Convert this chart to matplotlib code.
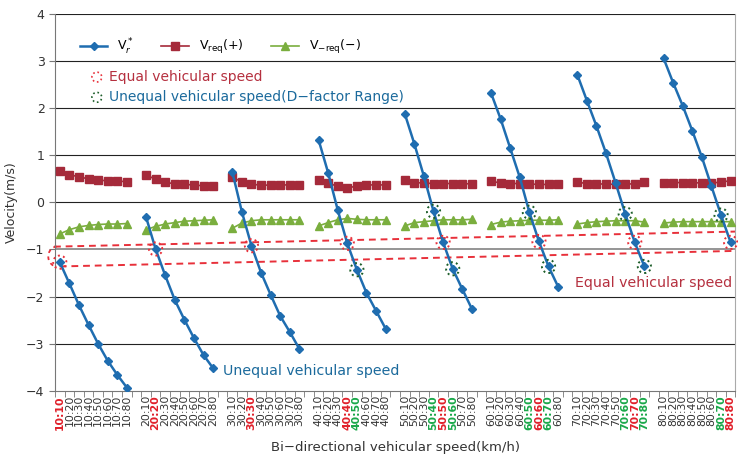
import numpy as np
import matplotlib.pyplot as plt

plt.rcParams['font.family'] = ['DejaVu Sans']

speeds = [10, 20, 30, 40, 50, 60, 70, 80]

# Vr* per group (10:xx ... 80:xx)
vr = [
    [-1.27, -1.72, -2.18, -2.60, -3.00, -3.36, -3.66, -3.93],
    [-0.31, -0.99, -1.55, -2.07, -2.49, -2.88, -3.24, -3.52],
    [0.65, -0.20, -0.92, -1.49, -1.96, -2.41, -2.75, -3.11],
    [1.33, 0.63, -0.16, -0.87, -1.43, -1.92, -2.30, -2.68],
    [1.88, 1.24, 0.55, -0.19, -0.85, -1.41, -1.84, -2.26],
    [2.32, 1.77, 1.15, 0.53, -0.21, -0.83, -1.36, -1.79],
    [2.71, 2.16, 1.62, 1.04, 0.41, -0.24, -0.85, -1.36],
    [3.06, 2.54, 2.05, 1.52, 0.96, 0.34, -0.27, -0.85],
]
vreq_plus = [
    [0.67, 0.59, 0.54, 0.50, 0.47, 0.46, 0.45, 0.44],
    [0.58, 0.49, 0.43, 0.39, 0.38, 0.37, 0.35, 0.35],
    [0.53, 0.44, 0.39, 0.36, 0.37, 0.37, 0.37, 0.37],
    [0.48, 0.41, 0.34, 0.30, 0.35, 0.37, 0.37, 0.37],
    [0.47, 0.42, 0.41, 0.40, 0.40, 0.40, 0.40, 0.39],
    [0.45, 0.41, 0.40, 0.40, 0.39, 0.38, 0.38, 0.39],
    [0.44, 0.39, 0.39, 0.39, 0.38, 0.38, 0.40, 0.43],
    [0.42, 0.42, 0.42, 0.42, 0.41, 0.41, 0.43, 0.46],
]
vreq_minus = [
    [-0.67, -0.58, -0.52, -0.49, -0.47, -0.46, -0.46, -0.45],
    [-0.58, -0.51, -0.46, -0.43, -0.40, -0.39, -0.38, -0.37],
    [-0.55, -0.44, -0.39, -0.37, -0.37, -0.37, -0.37, -0.37],
    [-0.50, -0.43, -0.37, -0.34, -0.36, -0.37, -0.37, -0.37],
    [-0.50, -0.43, -0.41, -0.39, -0.37, -0.37, -0.37, -0.36],
    [-0.47, -0.42, -0.40, -0.39, -0.38, -0.38, -0.38, -0.37],
    [-0.46, -0.43, -0.41, -0.40, -0.39, -0.39, -0.39, -0.42],
    [-0.44, -0.42, -0.41, -0.41, -0.41, -0.41, -0.41, -0.41],
]
# (group, index) of D-factor range points
dfactor = [(3, 4), (4, 3), (4, 5), (5, 4), (5, 6), (6, 5), (6, 7), (7, 6)]

# dashed envelope of equal speed points
upper_line = ([-0.6, 70.5], [-0.94, -0.62])
lower_line = ([0.0, 70.5], [-1.36, -1.03])

BLUE = '#1f6db0'
RED = '#a52a3a'
GREEN = '#7aae3e'
TXT_RED = '#b5303f'
TXT_BLUE = '#1b6a9c'
CIRC_RED = '#e8303a'
CIRC_GREEN = '#1d5e2a'

fig = plt.figure(figsize=(7.38, 4.62), dpi=100)
ax = fig.add_axes([0.0745, 0.154, 0.922, 0.816])

step = 9
labels, colors = [], []
for g, a in enumerate(speeds):
    for k, b in enumerate(speeds):
        labels.append('{}:{}'.format(a, b))
        if a == b:
            colors.append('#e0202a')
        elif (g, k) in dfactor:
            colors.append('#1aa84a')
        else:
            colors.append('#333333')
    if g < len(speeds) - 1:
        labels.append('')
        colors.append('#333333')

for g in range(len(speeds)):
    x = np.arange(8) + g * step
    ax.plot(x, vreq_plus[g], color=RED, marker='s', ms=5.5, lw=1.2, zorder=3,
            label='V$_{\\mathrm{req}}$(+)' if g == 0 else None)
    ax.plot(x, vreq_minus[g], color=GREEN, marker='^', ms=6, lw=1.2, zorder=3,
            label='V$_{-\\mathrm{req}}$(\u2212)' if g == 0 else None)
    ax.plot(x, vr[g], color=BLUE, marker='D', ms=4, lw=1.8, zorder=4,
            label='V$_r^*$' if g == 0 else None)

# circles
ex = [g * step + g for g in range(len(speeds))]
ey = [vr[g][g] for g in range(len(speeds))]
ax.scatter(ex, ey, s=90, facecolors='none', edgecolors=CIRC_RED,
           linestyles=':', linewidths=1.4, zorder=5, clip_on=False)
dx = [g * step + k for g, k in dfactor]
dy = [vr[g][k] for g, k in dfactor]
ax.scatter(dx, dy, s=90, facecolors='none', edgecolors=CIRC_GREEN,
           linestyles=':', linewidths=1.4, zorder=5)

ax.plot(*upper_line, color=CIRC_RED, ls=(0, (3.5, 2.5)), lw=1.4, zorder=2, clip_on=False)
ax.plot(*lower_line, color=CIRC_RED, ls=(0, (3.5, 2.5)), lw=1.4, zorder=2, clip_on=False)
t = np.linspace(np.pi / 2, 3 * np.pi / 2, 30)
arc_x = -0.3 + 0.9 * np.cos(t)
arc_y = -1.15 + 0.21 * np.sin(t)
ax.plot(arc_x, arc_y, color=CIRC_RED, ls=(0, (2, 2)), lw=1.3, zorder=2, clip_on=False)

# grid
for v in range(-4, 5):
    if v == -1:
        ax.axhline(v, color='#8c8c8c', lw=1.3, zorder=1)
    elif v != -4:
        ax.axhline(v, color='#222222', lw=0.8, zorder=1)

ax.set_xlim(-0.5, len(labels) - 0.5)
ax.set_ylim(-4, 4)
ax.set_yticks(range(-4, 5))
ax.set_yticklabels([str(v).replace('-', '\u2212') for v in range(-4, 5)], fontsize=9, color='#333333')
ax.set_xticks(range(len(labels)))
ax.set_xticklabels(labels, rotation=90, fontsize=7.8)
for lab, c in zip(ax.get_xticklabels(), colors):
    lab.set_color(c)
    if c != '#333333':
        lab.set_fontweight('bold')
ax.set_xticks(np.arange(-0.5, len(labels)), minor=True)
ax.tick_params(axis='x', which='major', length=0, pad=3)
ax.tick_params(axis='x', which='minor', length=4, color='#777777')
ax.tick_params(axis='y', length=4, color='#777777')

ax.spines['top'].set_visible(False)
ax.spines['left'].set_color('#777777')
ax.spines['bottom'].set_color('#777777')
ax.spines['right'].set_color('#aaaaaa')

ax.set_ylabel('Velocity(m/s)', fontsize=9, color='#333333', labelpad=6)
ax.set_xlabel('Bi\u2212directional vehicular speed(km/h)', fontsize=9.5, color='#333333', labelpad=8)

h, l = ax.get_legend_handles_labels()
order = [2, 0, 1]
leg1 = ax.legend([h[i] for i in order], [l[i] for i in order], ncol=3, loc='upper left',
                 bbox_to_anchor=(0.02, 0.97), frameon=False, fontsize=9,
                 handlelength=2.2, columnspacing=2.2)
ax.add_artist(leg1)

c1 = ax.scatter([], [], s=50, facecolors='none', edgecolors=CIRC_RED, linestyles=':', linewidths=1.2)
c2 = ax.scatter([], [], s=50, facecolors='none', edgecolors=CIRC_GREEN, linestyles=':', linewidths=1.2)
leg2 = ax.legend([c1, c2], ['Equal vehicular speed', 'Unequal vehicular speed(D\u2212factor Range)'],
                 loc='upper left', bbox_to_anchor=(0.035, 0.885), frameon=False, fontsize=10,
                 handlelength=0.8, handletextpad=0.5, labelspacing=0.45, scatterpoints=1)
leg2.get_texts()[0].set_color(TXT_RED)
leg2.get_texts()[1].set_color(TXT_BLUE)

ax.text(17.0, -3.66, 'Unequal vehicular speed', color=TXT_BLUE, fontsize=10.2)
ax.text(53.8, -1.8, 'Equal vehicular speed', color=TXT_RED, fontsize=10.2)

fig.savefig('out.png', dpi=100)
